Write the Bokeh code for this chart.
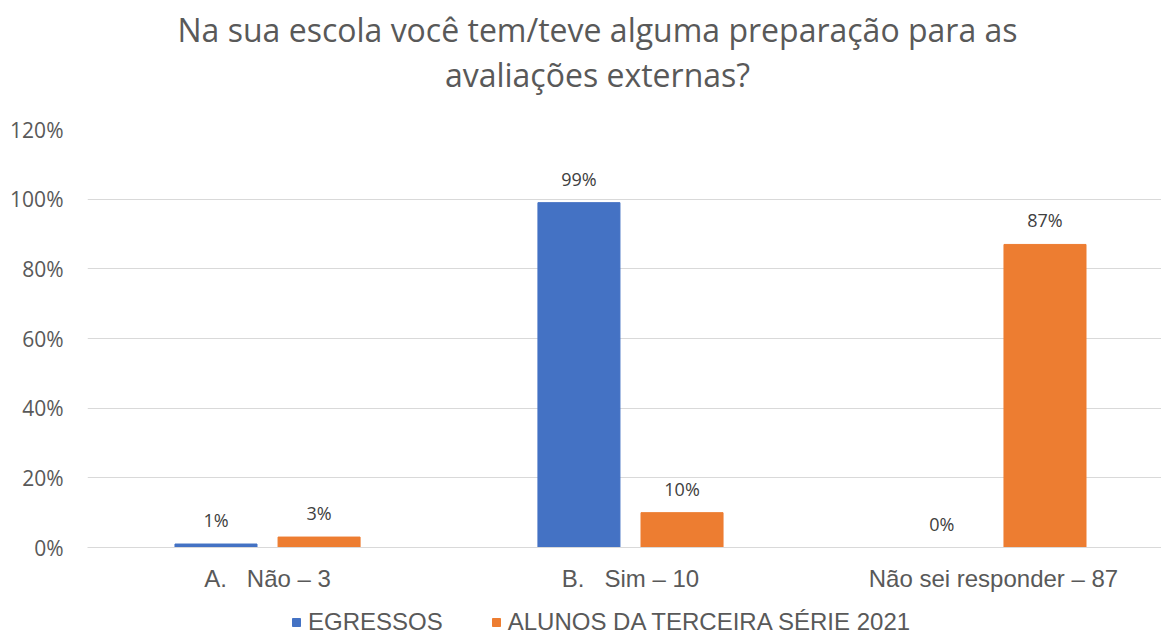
from bokeh.plotting import figure
from bokeh.models import (Range1d, FixedTicker, NumeralTickFormatter, Legend,
                          LegendItem, ColumnDataSource, LabelSet, Div)
from bokeh.layouts import column
from bokeh.core.properties import value
from bokeh.embed import file_html
from bokeh.resources import INLINE

NB = "\u00a0"
title_lines = ["Na sua escola você tem/teve alguma preparação para as", "avaliações externas?"]
categories = ["A." + NB * 3 + "Não – 3", "B." + NB * 3 + "Sim – 10", "Não sei responder – 87"]
egressos = [0.01, 0.99, 0.0]
alunos = [0.03, 0.10, 0.87]
series_names = ["EGRESSOS", "ALUNOS DA TERCEIRA SÉRIE 2021"]
y_ticks = [0, 0.2, 0.4, 0.6, 0.8, 1.0, 1.2]

FONT = "Open Sans"
FONT2 = "Liberation Sans"
BLUE = "#4472C4"
ORANGE = "#ED7D31"
GREY = "#595959"
W = 1161

centers = [i + 0.5 for i in range(len(categories))]
off = 0.142
bw = 0.226

title = Div(text="<br>".join(title_lines), width=W, height=100, margin=0,
            styles={"font-family": FONT, "font-size": "32px", "line-height": "45px",
                    "color": GREY, "text-align": "center", "padding-top": "7px",
                    "padding-left": "34px", "width": f"{W}px", "box-sizing": "border-box"})

p = figure(width=W, height=504, output_backend="svg", toolbar_location=None,
           x_range=Range1d(0.004, 2.963), y_range=Range1d(0, 1.2),
           min_border_left=87, min_border_right=0, min_border_top=29, min_border_bottom=57)
p.outline_line_color = None

src_e = ColumnDataSource(dict(x=[c - off for c in centers], top=egressos,
                              lab=[f"{round(v*100)}%" for v in egressos]))
src_a = ColumnDataSource(dict(x=[c + off for c in centers], top=alunos,
                              lab=[f"{round(v*100)}%" for v in alunos]))

p.vbar(x="x", top="top", width=bw, source=src_e, fill_color=BLUE, line_color=BLUE)
p.vbar(x="x", top="top", width=bw, source=src_a, fill_color=ORANGE, line_color=ORANGE)

for src in (src_e, src_a):
    p.add_layout(LabelSet(x="x", y="top", text="lab", source=src, y_offset=24,
                          text_align="center", text_baseline="middle",
                          text_font=value(FONT), text_font_size=value("18px"),
                          text_color="#404040"))

p.yaxis.ticker = FixedTicker(ticks=y_ticks)
p.yaxis.formatter = NumeralTickFormatter(format="0%")
p.yaxis.axis_line_color = None
p.yaxis.major_tick_line_color = None
p.yaxis.minor_tick_line_color = None
p.yaxis.major_tick_out = 0
p.yaxis.major_label_standoff = 24
p.yaxis.major_label_text_font = FONT
p.yaxis.major_label_text_font_size = "21px"
p.yaxis.major_label_text_color = GREY

p.xaxis.ticker = FixedTicker(ticks=centers)
p.xaxis.major_label_overrides = {c: lab for c, lab in zip(centers, categories)}
p.xaxis.axis_line_color = "#d9d9d9"
p.xaxis.major_tick_line_color = None
p.xaxis.minor_tick_line_color = None
p.xaxis.major_tick_out = 0
p.xaxis.major_label_standoff = 17
p.xaxis.major_label_text_font = FONT2
p.xaxis.major_label_text_font_size = "24px"
p.xaxis.major_label_text_color = GREY

p.xgrid.grid_line_color = None
p.ygrid.ticker = FixedTicker(ticks=y_ticks)
p.ygrid.grid_line_color = "#d9d9d9"

# legend strip (same series drawn out of view, so only the legend shows)
pl = figure(width=W, height=32, output_backend="svg", toolbar_location=None,
            x_range=Range1d(0.004, 2.963), y_range=Range1d(5, 6),
            x_axis_location=None, y_axis_location=None,
            min_border_left=0, min_border_right=0, min_border_top=0, min_border_bottom=0)
pl.outline_line_color = None
pl.grid.visible = False
d1 = pl.vbar(x="x", top="top", width=bw, source=src_e, fill_color=BLUE, line_color=BLUE)
d2 = pl.vbar(x="x", top="top", width=bw, source=src_a, fill_color=ORANGE, line_color=ORANGE)
legend = Legend(items=[LegendItem(label=series_names[0], renderers=[d1]),
                       LegendItem(label=series_names[1], renderers=[d2])],
                orientation="horizontal", location=(204, 0),
                label_text_font=FONT2, label_text_font_size="24px", label_text_color=GREY,
                glyph_width=10, glyph_height=10, spacing=48, label_standoff=7,
                border_line_color=None, background_fill_alpha=0, padding=0, margin=0)
pl.add_layout(legend, "center")

layout = column(title, p, pl, spacing=0)
open("out.html", "w").write(file_html(layout, INLINE))
